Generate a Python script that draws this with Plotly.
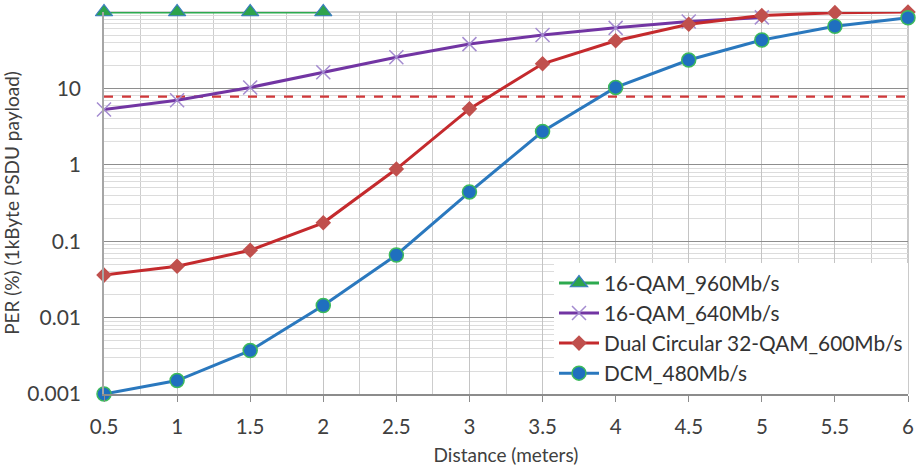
import plotly.graph_objects as go

# Distance (m) and packet error rate (%) per modulation scheme
distance = [0.5, 1, 1.5, 2, 2.5, 3, 3.5, 4, 4.5, 5, 5.5, 6]

qam16_960_x = [0.5, 1, 1.5, 2]
qam16_960 = [100, 100, 100, 100]

qam16_640_x = [0.5, 1, 1.5, 2, 2.5, 3, 3.5, 4, 4.5, 5]
qam16_640 = [5.3, 7.0, 10.3, 16.3, 25.5, 38, 50, 62, 75, 85]

dc32qam_600 = [0.036, 0.047, 0.076, 0.174, 0.88, 5.4, 21, 42, 69, 90, 98, 100]

dcm_480 = [0.001, 0.0015, 0.0037, 0.0144, 0.066, 0.44, 2.73, 10.3, 23.5, 43, 65, 84]

per_threshold = 7.8

y_tick_vals = [0.001, 0.01, 0.1, 1, 10]
y_tick_text = ["0.001", "0.01", "0.1", "1", "10"]

FONT = "Lato"
TEXT = "#404040"

fig = go.Figure()

# Threshold reference line across the whole distance range
fig.add_trace(go.Scatter(
    x=[distance[0], distance[-1]], y=[per_threshold, per_threshold],
    mode="lines", line=dict(color="#D0383A", width=2.2, dash="dash"),
    showlegend=False, hoverinfo="skip",
))

fig.add_trace(go.Scatter(
    x=qam16_960_x, y=qam16_960, name="16-QAM_960Mb/s",
    mode="lines+markers", cliponaxis=False,
    line=dict(color="#2DAA4F", width=3),
    marker=dict(symbol="triangle-up", size=15, color="#2EA34C",
                line=dict(color="#3A7CC0", width=1.2)),
))

fig.add_trace(go.Scatter(
    x=qam16_640_x, y=qam16_640, name="16-QAM_640Mb/s",
    mode="lines+markers", cliponaxis=False,
    line=dict(color="#7235A3", width=3),
    marker=dict(symbol="x-thin", size=14, color="#A48BD0",
                line=dict(color="#A48BD0", width=1.5)),
))

fig.add_trace(go.Scatter(
    x=distance, y=dc32qam_600, name="Dual Circular 32-QAM_600Mb/s",
    mode="lines+markers", cliponaxis=False,
    line=dict(color="#C42A2D", width=3),
    marker=dict(symbol="diamond", size=12, color="#C0504D"),
))

fig.add_trace(go.Scatter(
    x=distance, y=dcm_480, name="DCM_480Mb/s",
    mode="lines+markers", cliponaxis=False,
    line=dict(color="#2A78BE", width=3),
    marker=dict(symbol="circle", size=14, color="#1F6FBF",
                line=dict(color="#3DBA5C", width=1.5)),
))

fig.update_layout(
    width=918, height=466,
    margin=dict(l=104, r=10, t=12, b=72, autoexpand=False),
    paper_bgcolor="white", plot_bgcolor="white",
    font=dict(family=FONT, size=20, color=TEXT),
    legend=dict(
        x=1, xanchor="right", y=0, yanchor="bottom",
        bgcolor="white", borderwidth=0,
        font=dict(family=FONT, size=20.8, color="#333333"),
        tracegroupgap=0, itemwidth=40,
    ),
)

fig.update_xaxes(
    range=[0.5, 6], dtick=0.5, tick0=0.5, automargin=False,
    showgrid=True, gridcolor="#C4C4C4", gridwidth=1,
    minor=dict(dtick=0.25, showgrid=True, gridcolor="#CDCDCD", ticks=""),
    ticks="outside", ticklen=6, tickcolor="#8C8C8C", ticklabelstandoff=8,
    showline=True, linecolor="#8C8C8C", linewidth=1.5, mirror=False,
    zeroline=False,
    tickfont=dict(family=FONT, size=20.5, color=TEXT),
    title=dict(text="Distance (meters)", font=dict(family=FONT, size=19, color=TEXT), standoff=11),
)

fig.update_yaxes(
    type="log", range=[-3, 2], automargin=False,
    tickmode="array", tickvals=y_tick_vals, ticktext=y_tick_text,
    showgrid=True, gridcolor="#8E8E8E", gridwidth=1,
    minor=dict(dtick="D1", showgrid=True, gridcolor="#DCDCDC", ticks=""),
    ticks="", ticklabelstandoff=17,
    showline=True, linecolor="#A6A6A6", linewidth=1.5,
    zeroline=False,
    tickfont=dict(family=FONT, size=21, color=TEXT),
    title=dict(text="PER (%) (1kByte PSDU payload)", font=dict(family=FONT, size=19, color=TEXT), standoff=7),
)

# Closing frame lines on the top and right of the plot area
fig.add_shape(type="line", xref="paper", yref="paper", x0=0, x1=1, y0=1, y1=1,
              line=dict(color="#A6A6A6", width=1.2), layer="below")
fig.add_shape(type="line", xref="paper", yref="paper", x0=1, x1=1, y0=0, y1=1,
              line=dict(color="#A6A6A6", width=1.2), layer="below")

fig.write_html("out.html")
